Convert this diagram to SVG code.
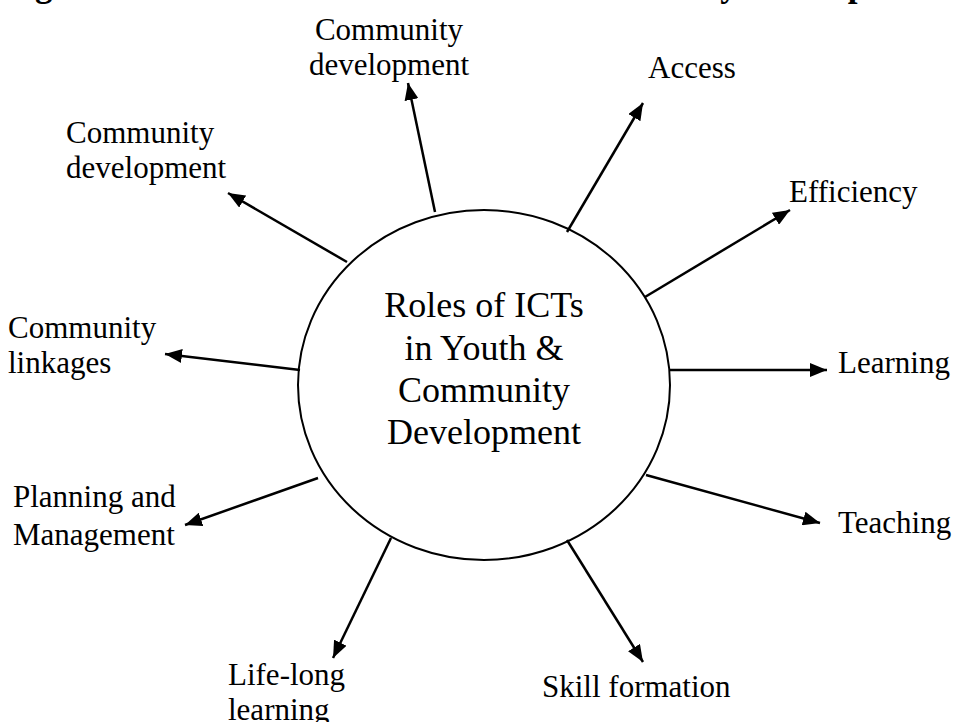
<svg xmlns="http://www.w3.org/2000/svg" width="958" height="722" viewBox="0 0 958 722">
<style>
  text { font-family: "Liberation Serif", "Times New Roman", serif; fill: #000; }
  .lbl { font-size: 31px; }
  .ctr { font-size: 36px; text-anchor: middle; }
  .title { font-size: 35px; font-weight: bold; }
  .conn line { stroke: #000; stroke-width: 2.5; marker-end: url(#arr); }
</style>
<defs>
  <marker id="arr" markerUnits="userSpaceOnUse" markerWidth="18" markerHeight="14" refX="17" refY="7" orient="auto">
    <path d="M0,0 L17,7 L0,14 z" fill="#000"/>
  </marker>
</defs>
<rect width="958" height="722" fill="#fff"/>
<text class="title" x="4" y="-4">Figure 1: Roles of ICTs in Youth and Community Development</text>

<g id="center">
  <ellipse cx="484" cy="385" rx="186" ry="175" fill="#fff" stroke="#000" stroke-width="2"/>
  <text class="ctr" x="484" y="317">Roles of ICTs</text>
  <text class="ctr" x="484" y="360">in Youth &amp;</text>
  <text class="ctr" x="484" y="402">Community</text>
  <text class="ctr" x="484" y="444">Development</text>
</g>

<g class="conn" id="connectors">
  <line x1="435" y1="212" x2="408" y2="83"/>
  <line x1="567" y1="232" x2="643" y2="103"/>
  <line x1="645" y1="297" x2="790" y2="210"/>
  <line x1="670" y1="370" x2="827" y2="370"/>
  <line x1="646" y1="475" x2="820" y2="523"/>
  <line x1="567" y1="540" x2="643" y2="662"/>
  <line x1="391" y1="538" x2="333" y2="658"/>
  <line x1="318" y1="478" x2="185" y2="525"/>
  <line x1="300" y1="370" x2="165" y2="354"/>
  <line x1="347" y1="262" x2="228" y2="193"/>
</g>

<g id="n-community-dev-top">
  <text class="lbl" x="389" y="40" text-anchor="middle">Community</text>
  <text class="lbl" x="389" y="75" text-anchor="middle">development</text>
</g>
<g id="n-access"><text class="lbl" x="648" y="78">Access</text></g>
<g id="n-efficiency"><text class="lbl" x="789" y="202">Efficiency</text></g>
<g id="n-learning"><text class="lbl" x="838" y="373">Learning</text></g>
<g id="n-teaching"><text class="lbl" x="838" y="533">Teaching</text></g>
<g id="n-skill"><text class="lbl" x="542" y="697">Skill formation</text></g>
<g id="n-lifelong">
  <text class="lbl" x="228" y="685">Life-long</text>
  <text class="lbl" x="228" y="720">learning</text>
</g>
<g id="n-planning">
  <text class="lbl" x="13" y="507">Planning and</text>
  <text class="lbl" x="13" y="545">Management</text>
</g>
<g id="n-linkages">
  <text class="lbl" x="8" y="338">Community</text>
  <text class="lbl" x="8" y="373">linkages</text>
</g>
<g id="n-community-dev-left">
  <text class="lbl" x="66" y="143">Community</text>
  <text class="lbl" x="66" y="178">development</text>
</g>
</svg>
